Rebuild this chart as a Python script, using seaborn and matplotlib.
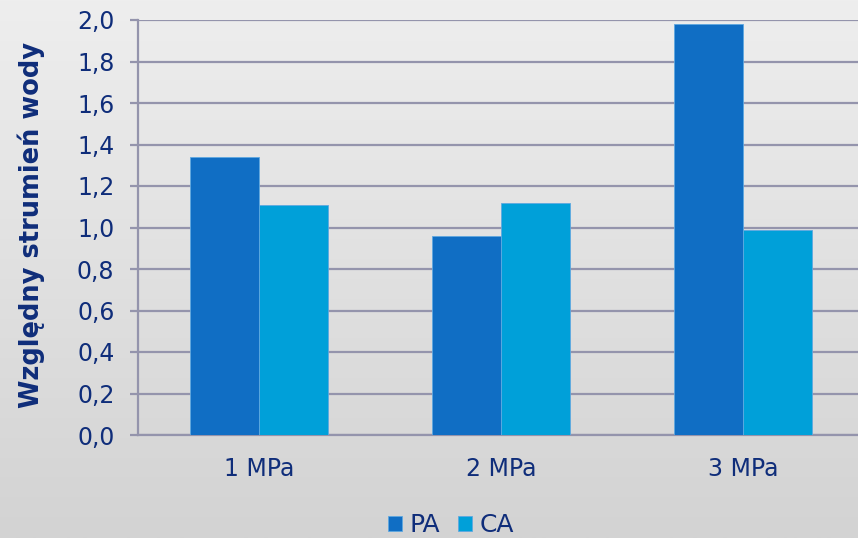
import numpy as np
import pandas as pd
import matplotlib
matplotlib.use("Agg")
import matplotlib.pyplot as plt
import seaborn as sns

categories = ["1 MPa", "2 MPa", "3 MPa"]
series_names = ["PA", "CA"]
pa_values = [1.34, 0.96, 1.98]
ca_values = [1.11, 1.12, 0.99]
y_ticks = [0.0, 0.2, 0.4, 0.6, 0.8, 1.0, 1.2, 1.4, 1.6, 1.8, 2.0]

df = pd.DataFrame({
    "kategoria": categories * 2,
    "seria": [series_names[0]] * 3 + [series_names[1]] * 3,
    "wartosc": pa_values + ca_values,
})

sns.set_theme(style="white")
plt.rcParams["font.family"] = ["DejaVu Sans"]

text_col = "#0F2D7A"
grid_col = "#9494AC"
colors = {"PA": "#106EC4", "CA": "#00A0D9"}

fig = plt.figure(figsize=(8.58, 5.38), dpi=100)

# soft vertical gradient behind everything
bg = fig.add_axes([0, 0, 1, 1], zorder=-10)
grad = np.linspace(0, 1, 256).reshape(-1, 1)
bg.imshow(grad, aspect="auto", cmap=matplotlib.colors.LinearSegmentedColormap.from_list(
    "bg", ["#EEEEEE", "#D3D3D3"]), extent=[0, 1, 0, 1], origin="upper")
bg.axis("off")

ax = fig.add_axes([138 / 858, 1 - 435 / 538, 726 / 858, 415 / 538])
ax.set_facecolor("none")

sns.barplot(data=df, x="kategoria", y="wartosc", hue="seria", order=categories,
            hue_order=series_names, palette=colors, saturation=1, width=0.57, gap=0,
            edgecolor="#5FA8E0", linewidth=0.6, ax=ax, zorder=3)

ax.set_xlim(-0.5, 2.5)
ax.set_ylim(0, 2.0)
ax.set_yticks(y_ticks)
ax.set_yticklabels([f"{v:.1f}".replace(".", ",") for v in y_ticks])
ax.yaxis.grid(True, color=grid_col, linewidth=1.6, zorder=0)
ax.set_axisbelow(True)

ax.set_xticks(range(len(categories)))
ax.set_xticklabels(categories)
ax.set_xticks([-0.5, 0.5, 1.5, 2.5], minor=True)
ax.tick_params(axis="x", which="major", length=0, pad=16, labelsize=17, labelcolor=text_col)
ax.tick_params(axis="x", which="minor", length=6, width=1.6, color=grid_col, direction="out")
ax.tick_params(axis="y", length=6, width=1.6, color=grid_col, direction="out",
               labelsize=17, labelcolor=text_col, pad=11, left=True)

for s in ["top", "right"]:
    ax.spines[s].set_visible(False)
for s in ["left", "bottom"]:
    ax.spines[s].set_color(grid_col)
    ax.spines[s].set_linewidth(1.6)

ax.set_xlabel("")
ax.set_ylabel("Względny strumień wody", fontsize=18.5, fontweight="bold", color=text_col)
ax.yaxis.set_label_coords(-0.128, 0.506)

leg = ax.legend(loc="center", bbox_to_anchor=(451 / 858, 1 - 525 / 538),
                bbox_transform=fig.transFigure, ncol=2, frameon=False,
                fontsize=18, handlelength=0.56, handleheight=0.56,
                handletextpad=0.32, columnspacing=0.68, borderpad=0.1)
for t in leg.get_texts():
    t.set_color(text_col)

fig.savefig("out.png", dpi=100)
